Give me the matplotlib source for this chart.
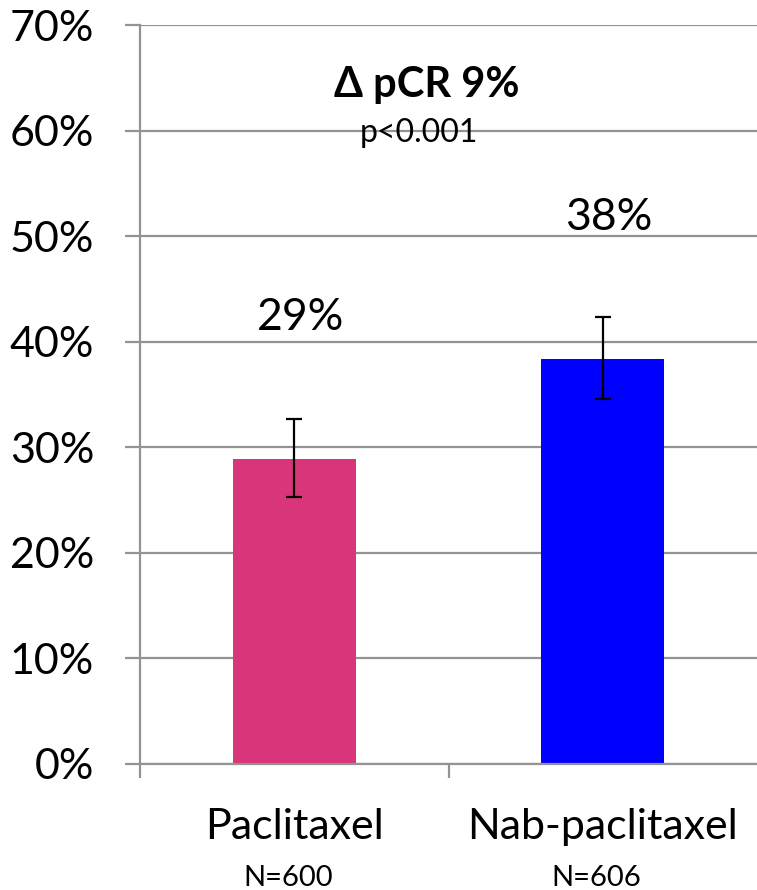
import numpy as np
import matplotlib.pyplot as plt
from matplotlib.ticker import FixedLocator, PercentFormatter

plt.rcParams['font.family'] = ['Lato', 'DejaVu Sans']

# data
groups = ['Paclitaxel', 'Nab-paclitaxel']
counts = ['N=600', 'N=606']
pcr = [28.9, 38.4]
ci_low = [25.3, 34.6]
ci_high = [32.7, 42.3]
bar_labels = ['29%', '38%']
colors = ['#D9357A', '#0000FF']

grid_col = '#939393'

fig = plt.figure(figsize=(7.57, 8.90), dpi=100)
ax = fig.add_axes([0.185, 0.1416, 0.815, 0.8303])

x = np.arange(len(groups))
yerr = [np.array(pcr) - np.array(ci_low), np.array(ci_high) - np.array(pcr)]
ax.bar(x, pcr, width=0.4, color=colors, zorder=2)
ax.errorbar(x, pcr, yerr=yerr, fmt='none', ecolor='black', elinewidth=1.6,
            capsize=6, capthick=1.6, zorder=3)

ax.set_xlim(-0.5, 1.5)
ax.set_ylim(0, 70)
ax.set_yticks(np.arange(0, 71, 10))
ax.yaxis.set_major_formatter(PercentFormatter(decimals=0))
ax.grid(axis='y', color=grid_col, linewidth=1.6, zorder=0)
ax.set_axisbelow(True)

for s in ['top', 'right']:
    ax.spines[s].set_visible(False)
for s in ['left', 'bottom']:
    ax.spines[s].set_color(grid_col)
    ax.spines[s].set_linewidth(1.6)

ax.tick_params(axis='y', length=11, width=1.6, color=grid_col, pad=22,
               labelsize=31)
ax.set_xticks([])
ax.xaxis.set_minor_locator(FixedLocator([-0.5, 0.5]))
ax.tick_params(axis='x', which='minor', length=10, width=1.6, color=grid_col)

# value labels above the bars
for xi, v, lab in zip(x, pcr, bar_labels):
    ax.text(xi + 0.02, v + 12.2, lab, ha='center', va='baseline', fontsize=32)

# category names and group sizes under the axis
for xi, g, n in zip(x, groups, counts):
    ax.text(xi, -7.1, g, ha='center', va='baseline', fontsize=31, clip_on=False)
    ax.text(xi - 0.02, -11.6, n, ha='center', va='baseline', fontsize=21,
            clip_on=False)

ax.text(0.43, 63.2, 'Δ pCR 9%', ha='center', va='baseline', fontsize=30,
        fontweight='bold')
ax.text(0.405, 58.9, 'p<0.001', ha='center', va='baseline', fontsize=23)

fig.savefig('out.png', dpi=100)
